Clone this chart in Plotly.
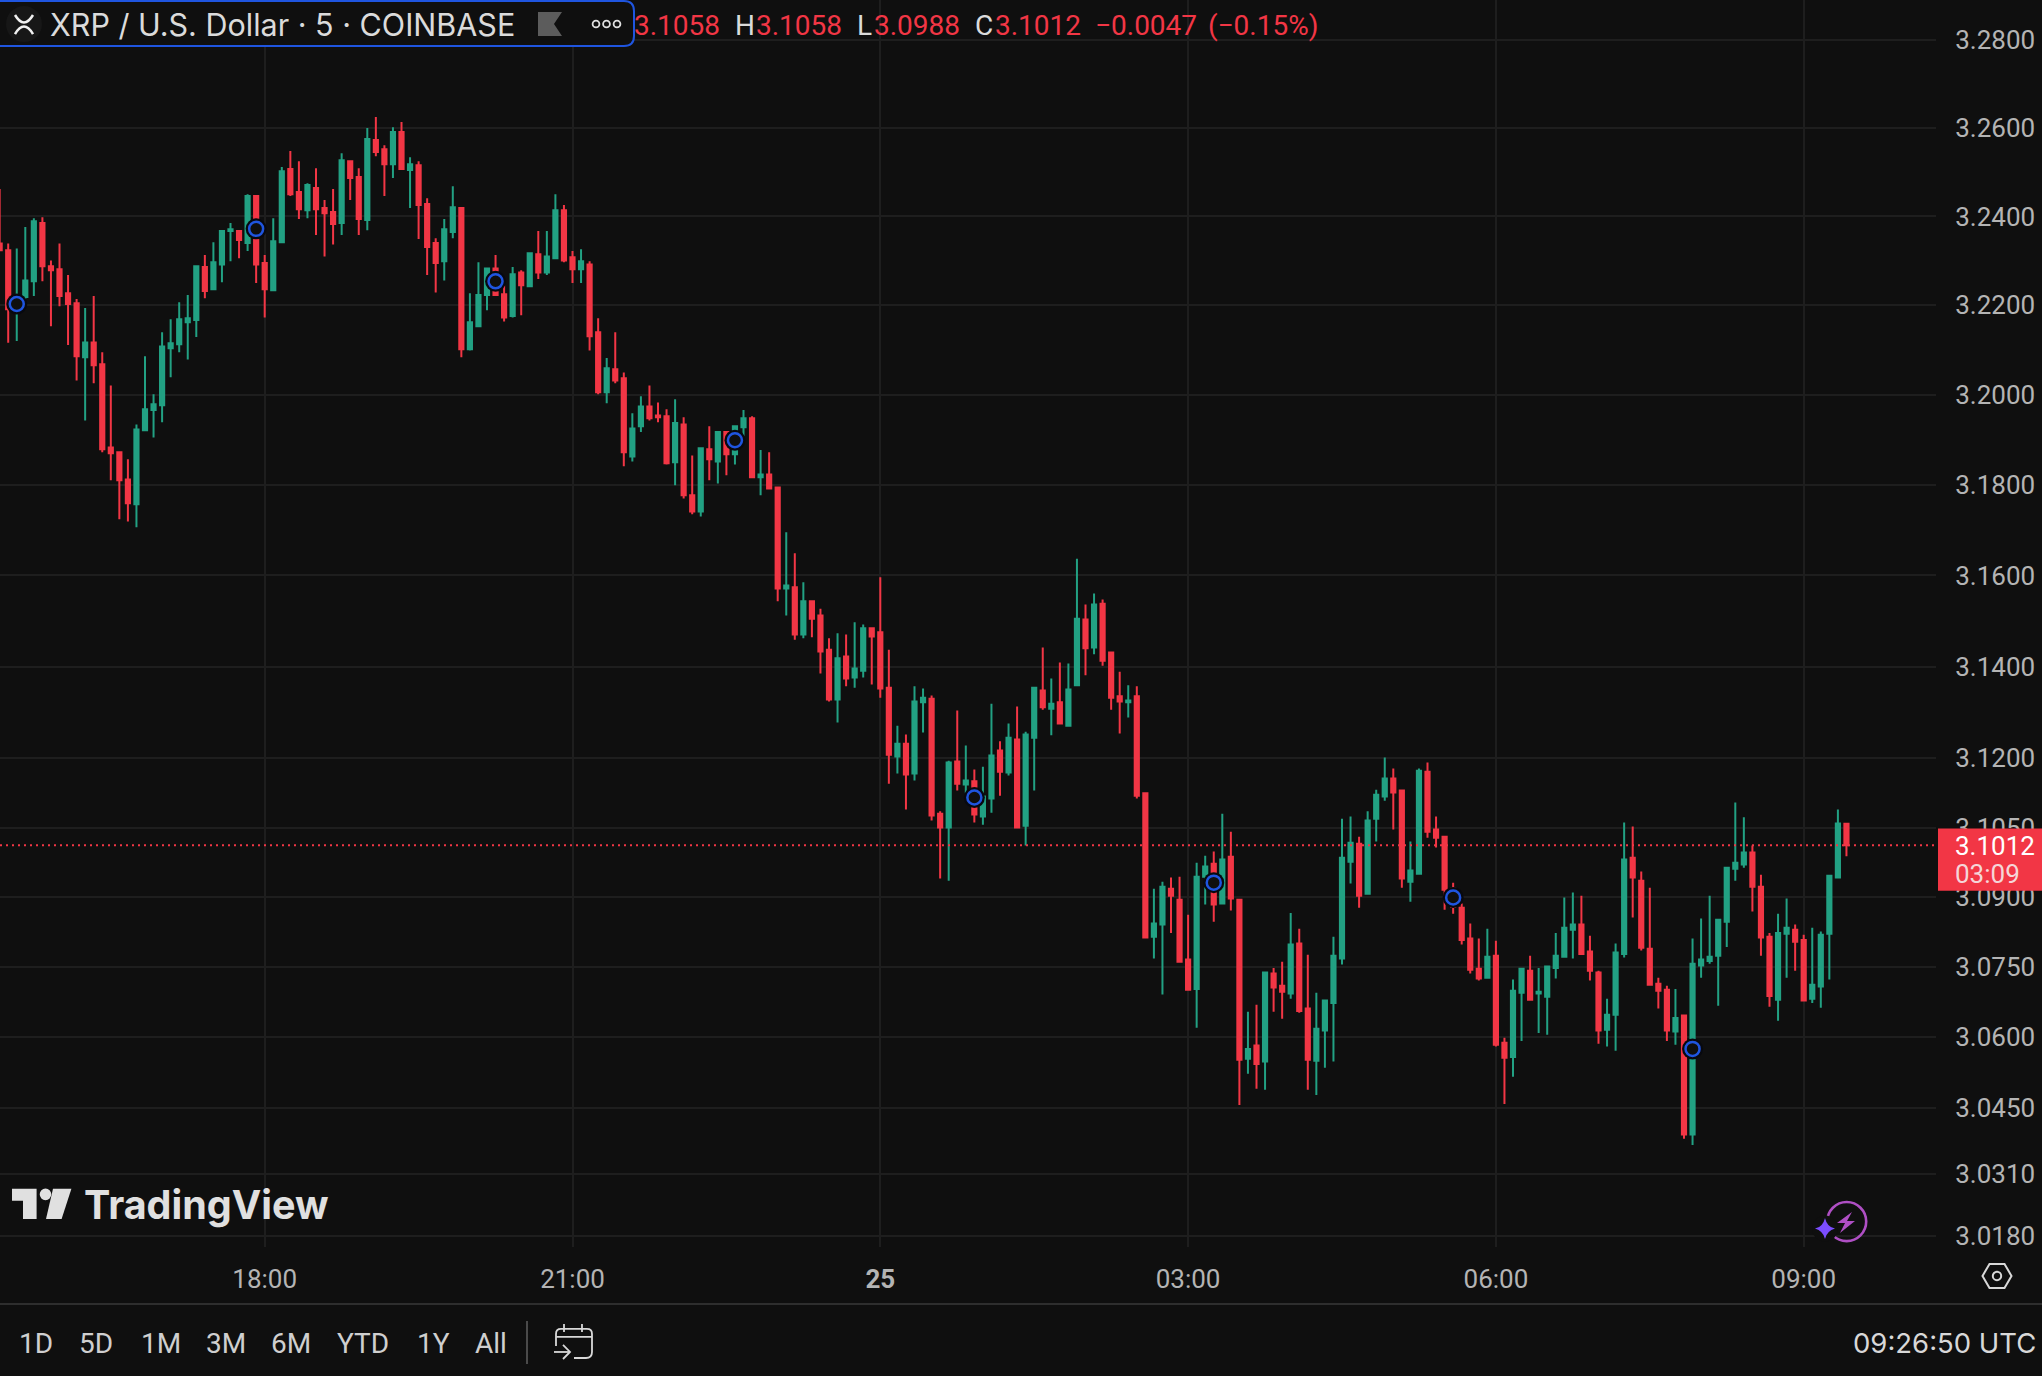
import math
import pandas as pd
import plotly.graph_objects as go

# ---- data ----
open_ = [3.2339,3.2324,3.2188,3.2219,3.2254,3.2385,3.2288,3.2281,3.2227,3.2205,3.2084,3.2117,3.2068,3.1883,3.1872,3.1812,3.1757,3.1921,3.1966,3.1977,3.2104,3.2113,3.2162,3.2167,3.2286,
3.2236,3.2292,3.2367,3.2367,3.2340,3.2446,3.2295,3.2234,3.2342,3.2507,3.2455,3.2414,3.2464,3.2419,3.2410,3.2385,3.2525,3.2489,3.2392,3.2573,3.2552,3.2518,3.2591,3.2505,3.2516,
3.2428,3.2340,3.2299,3.2365,3.2419,3.2102,3.2153,3.2223,3.2283,3.2225,3.2176,3.2274,3.2243,3.2315,3.2274,3.2306,3.2414,3.2308,3.2281,3.2292,3.2140,3.2006,3.2057,3.2037,3.1863,
3.1930,3.1974,3.1954,3.1952,3.1850,3.1934,3.1777,3.1741,3.1879,3.1852,3.1917,3.1868,3.1928,3.1948,3.1817,3.1823,3.1794,3.1571,3.1574,3.1470,3.1543,3.1512,3.1437,3.1328,3.1422,
3.1376,3.1391,3.1484,3.1475,3.1354,3.1204,3.1232,3.1167,3.1322,3.1330,3.1080,3.1050,3.1193,3.1143,3.1150,3.1074,3.1113,3.1217,3.1169,3.1241,3.1054,3.1245,3.1348,3.1308,3.1322,
3.1271,3.1359,3.1503,3.1442,3.1538,3.1431,3.1335,3.1322,3.1335,3.1124,3.0815,3.0841,3.0918,3.0894,3.0766,3.0703,3.0944,3.0972,3.0886,3.0987,3.0894,3.0554,3.0582,3.0548,3.0736,
3.0710,3.0693,3.0800,3.0661,3.0550,3.0614,3.0673,3.0768,3.0976,3.1015,3.0907,3.1069,3.1117,3.1156,3.1130,3.0933,3.0950,3.1171,3.1046,3.1030,3.0918,3.0877,3.0811,3.0746,3.0727,
3.0774,3.0588,3.0558,3.0695,3.0742,3.0693,3.0686,3.0748,3.0772,3.0830,3.0841,3.0783,3.0738,3.0616,3.0648,3.0778,3.0985,3.0935,3.0789,3.0714,3.0701,3.0612,3.0646,3.0393,3.0753,
3.0763,3.0774,3.0847,3.0961,3.0970,3.0996,3.0922,3.0815,3.0680,3.0821,3.0830,3.0808,3.0682,3.0708,3.0821,3.0942,3.1058]
high = [3.2462,3.2339,3.2328,3.2376,3.2396,3.2398,3.2301,3.2339,3.2268,3.2214,3.2194,3.2221,3.2095,3.2021,3.1872,3.1857,3.1934,3.2086,3.2001,3.2140,3.2169,3.2207,3.2223,3.2290,3.2313,
3.2342,3.2367,3.2385,3.2367,3.2450,3.2448,3.2313,3.2396,3.2512,3.2548,3.2525,3.2475,3.2509,3.2437,3.2462,3.2543,3.2525,3.2509,3.2600,3.2625,3.2561,3.2602,3.2614,3.2534,3.2525,
3.2441,3.2351,3.2394,3.2468,3.2419,3.2227,3.2297,3.2283,3.2313,3.2245,3.2286,3.2279,3.2319,3.2367,3.2367,3.2450,3.2426,3.2322,3.2326,3.2299,3.2171,3.2082,3.2140,3.2050,3.1959,
3.1997,3.2021,3.1983,3.1968,3.1990,3.1950,3.1865,3.1881,3.1930,3.1919,3.1917,3.1930,3.1966,3.1952,3.1877,3.1872,3.1794,3.1695,3.1649,3.1585,3.1545,3.1527,3.1462,3.1473,3.1470,
3.1497,3.1492,3.1484,3.1596,3.1437,3.1271,3.1252,3.1357,3.1352,3.1337,3.1085,3.1195,3.1304,3.1228,3.1176,3.1182,3.1319,3.1237,3.1276,3.1313,3.1258,3.1354,3.1442,3.1374,3.1409,
3.1407,3.1637,3.1536,3.1560,3.1547,3.1433,3.1389,3.1359,3.1357,3.1124,3.0918,3.0933,3.0942,3.0944,3.0862,3.0974,3.0989,3.0998,3.1080,3.1041,3.0894,3.0654,3.0669,3.0738,3.0748,
3.0761,3.0866,3.0832,3.0776,3.0695,3.0678,3.0815,3.1069,3.1074,3.1030,3.1085,3.1132,3.1202,3.1178,3.1130,3.1020,3.1178,3.1191,3.1074,3.1030,3.0931,3.0886,3.0843,3.0811,3.0832,
3.0806,3.0599,3.0723,3.0748,3.0774,3.0748,3.0751,3.0823,3.0899,3.0910,3.0903,3.0817,3.0742,3.0682,3.0800,3.1061,3.1052,3.0955,3.0920,3.0727,3.0710,3.0703,3.0648,3.0811,3.0854,
3.0903,3.0851,3.0963,3.1104,3.1072,3.1011,3.0948,3.0823,3.0864,3.0897,3.0841,3.0819,3.0834,3.0826,3.0946,3.1089,3.1058]
low = [3.2324,3.2116,3.2120,3.2215,3.2221,3.2254,3.2153,3.2198,3.2111,3.2032,3.1943,3.2026,3.1872,3.1810,3.1724,3.1719,3.1706,3.1921,3.1905,3.1939,3.2039,3.2095,3.2079,3.2129,3.2216,
3.2236,3.2252,3.2299,3.2306,3.2322,3.2250,3.2173,3.2232,3.2340,3.2446,3.2394,3.2396,3.2358,3.2310,3.2337,3.2358,3.2437,3.2358,3.2369,3.2536,3.2446,3.2487,3.2507,3.2419,3.2349,
3.2268,3.2229,3.2256,3.2351,3.2084,3.2099,3.2153,3.2189,3.2221,3.2164,3.2173,3.2178,3.2241,3.2259,3.2268,3.2304,3.2297,3.2250,3.2250,3.2099,3.2001,3.1981,3.2026,3.1841,3.1852,
3.1917,3.1943,3.1939,3.1845,3.1799,3.1770,3.1735,3.1730,3.1810,3.1803,3.1821,3.1845,3.1908,3.1817,3.1777,3.1792,3.1543,3.1512,3.1459,3.1462,3.1464,3.1385,3.1324,3.1278,3.1357,
3.1354,3.1376,3.1361,3.1332,3.1145,3.1167,3.1089,3.1152,3.1256,3.1065,3.0940,3.0935,3.1130,3.1124,3.1061,3.1056,3.1082,3.1119,3.1163,3.1050,3.1011,3.1130,3.1306,3.1250,3.1276,
3.1271,3.1357,3.1381,3.1427,3.1402,3.1306,3.1254,3.1289,3.1113,3.0811,3.0768,3.0691,3.0823,3.0761,3.0699,3.0620,3.0884,3.0847,3.0886,3.0871,3.0456,3.0522,3.0490,3.0488,3.0654,
3.0639,3.0682,3.0652,3.0488,3.0477,3.0535,3.0548,3.0755,3.0929,3.0877,3.0907,3.1020,3.1108,3.1046,3.0920,3.0890,3.0950,3.1028,3.1007,3.0873,3.0864,3.0798,3.0736,3.0721,3.0725,
3.0580,3.0458,3.0516,3.0592,3.0680,3.0609,3.0605,3.0725,3.0772,3.0768,3.0778,3.0721,3.0586,3.0580,3.0571,3.0770,3.0856,3.0785,3.0712,3.0661,3.0592,3.0584,3.0384,3.0371,3.0727,
3.0757,3.0667,3.0793,3.0935,3.0963,3.0869,3.0774,3.0665,3.0635,3.0727,3.0742,3.0676,3.0673,3.0663,3.0723,3.0942,3.0988]
close = [3.2324,3.2191,3.2215,3.2256,3.2389,3.2288,3.2279,3.2221,3.2203,3.2086,3.2117,3.2066,3.1879,3.1870,3.1810,3.1759,3.1923,3.1968,3.1979,3.2108,3.2115,3.2169,3.2171,3.2288,3.2232,
3.2297,3.2367,3.2371,3.2347,3.2446,3.2292,3.2236,3.2344,3.2502,3.2450,3.2416,3.2471,3.2416,3.2407,3.2383,3.2527,3.2487,3.2394,3.2575,3.2546,3.2518,3.2591,3.2507,3.2518,3.2426,
3.2331,3.2295,3.2371,3.2421,3.2102,3.2162,3.2223,3.2283,3.2223,3.2173,3.2270,3.2245,3.2317,3.2274,3.2310,3.2414,3.2301,3.2281,3.2299,3.2131,3.2006,3.2059,3.2032,3.1872,3.1925,
3.1974,3.1948,3.1950,3.1848,3.1937,3.1777,3.1741,3.1881,3.1857,3.1917,3.1868,3.1930,3.1948,3.1817,3.1823,3.1792,3.1571,3.1578,3.1470,3.1543,3.1505,3.1433,3.1328,3.1418,3.1374,
3.1396,3.1484,3.1466,3.1352,3.1208,3.1232,3.1165,3.1324,3.1332,3.1076,3.1050,3.1191,3.1145,3.1152,3.1078,3.1117,3.1206,3.1171,3.1245,3.1050,3.1252,3.1354,3.1311,3.1319,3.1276,
3.1350,3.1505,3.1440,3.1536,3.1413,3.1332,3.1324,3.1326,3.1119,3.0813,3.0843,3.0922,3.0903,3.0761,3.0701,3.0944,3.0966,3.0884,3.0981,3.0897,3.0552,3.0575,3.0543,3.0738,3.0706,
3.0697,3.0798,3.0656,3.0552,3.0618,3.0678,3.0774,3.0985,3.1017,3.0903,3.1065,3.1121,3.1156,3.1126,3.0940,3.0957,3.1173,3.1041,3.1028,3.0916,3.0879,3.0808,3.0744,3.0725,3.0772,
3.0584,3.0556,3.0699,3.0746,3.0680,3.0697,3.0751,3.0774,3.0834,3.0841,3.0778,3.0742,3.0614,3.0648,3.0781,3.0981,3.0942,3.0791,3.0712,3.0699,3.0614,3.0641,3.0393,3.0757,3.0766,
3.0772,3.0851,3.0963,3.0974,3.0996,3.0922,3.0813,3.0688,3.0823,3.0834,3.0804,3.0678,3.0712,3.0819,3.0946,3.1059,3.1012]
marker_times = ['2025-07-24 15:35', '2025-07-24 17:55', '2025-07-24 20:15', '2025-07-24 22:35',
                '2025-07-25 00:55', '2025-07-25 03:15', '2025-07-25 05:35', '2025-07-25 07:55']
marker_prices = [3.2203, 3.2372, 3.2254, 3.1899, 3.1115, 3.0931, 3.0899, 3.0575]
tick_prices = [3.28, 3.26, 3.24, 3.22, 3.20, 3.18, 3.16, 3.14, 3.12, 3.105, 3.09, 3.075, 3.06, 3.045, 3.031, 3.018]
tick_times = ['2025-07-24 18:00', '2025-07-24 21:00', '2025-07-25 00:00', '2025-07-25 03:00',
              '2025-07-25 06:00', '2025-07-25 09:00']
tick_time_text = ['18:00', '21:00', '<b>25</b>', '03:00', '06:00', '09:00']
times = pd.date_range('2025-07-24 15:25', periods=len(open_), freq='5min')
assert len(open_) == len(high) == len(low) == len(close)

W, H_ = 2042, 1376
FIG_H = 1381
BG = '#0F0F0F'; RED = '#F23645'; GRN = '#22A183'; GRID = '#1E1E1E'; AX = '#B4B4B4'; FONT = 'Inter'; NUM = 'Roboto'
def X(v): return v / W
def Y(v): return 1 - v / H_
def p(y): return 3.26 * math.exp(-(y - 128) / 14348)

t0 = pd.Timestamp('2025-07-24 18:00')
xl = t0 + pd.Timedelta(minutes=5 * (-264.7 / 8.55))
xr = t0 + pd.Timedelta(minutes=5 * ((1936 - 264.7) / 8.55))

fig = go.Figure()
fig.add_trace(go.Scatter(x=[xl, xr], y=[close[-1], close[-1]], mode='lines', hoverinfo='skip', showlegend=False,
                         line=dict(color=RED, width=2, dash='2px,4px')))
fig.add_trace(go.Candlestick(x=times, open=open_, high=high, low=low, close=close, showlegend=False,
                             increasing=dict(line=dict(color=GRN, width=2), fillcolor=GRN),
                             decreasing=dict(line=dict(color=RED, width=2), fillcolor=RED)))
fig.add_trace(go.Scatter(x=marker_times, y=marker_prices, mode='markers', hoverinfo='skip', showlegend=False,
                         marker=dict(size=21, color='#08090F')))
fig.add_trace(go.Scatter(x=marker_times, y=marker_prices, mode='markers', hoverinfo='skip', showlegend=False,
                         marker=dict(size=14, color=BG, line=dict(color='#1F55E0', width=2.5))))

shapes = []
def sh(path_, fill=None, line=None, lw=2):
    shapes.append(dict(type='path', path=path_, xref='paper', yref='paper', fillcolor=fill,
                       line=dict(color=line if line else 'rgba(0,0,0,0)', width=lw if line else 0), layer='above'))
def path(*cmds):
    out = []
    for c in cmds:
        out.append(c[0] + ' '.join(f'{X(c[i]):.5f},{Y(c[i+1]):.5f}' for i in range(1, len(c), 2)))
    return ' '.join(out)
def circ(cx, cy, rx, ry=None, fill=None, line=None, lw=2):
    ry = ry or rx
    shapes.append(dict(type='circle', xref='paper', yref='paper', x0=X(cx - rx), x1=X(cx + rx), y0=Y(cy + ry), y1=Y(cy - ry),
                       fillcolor=fill, line=dict(color=line if line else 'rgba(0,0,0,0)', width=lw if line else 0), layer='above'))
def rect(x0, y0, x1, y1, fill):
    shapes.append(dict(type='rect', xref='paper', yref='paper', x0=X(x0), x1=X(x1), y0=Y(y1), y1=Y(y0), fillcolor=fill,
                       line=dict(width=0), layer='above'))

# header box
sh(path(('M', -4, 1), ('L', 624, 1), ('Q', 634, 1, 634, 11), ('L', 634, 36), ('Q', 634, 46, 624, 46), ('L', -4, 46)) + ' Z',
   fill=BG, line='#1F55E0', lw=2)
circ(24, 24, 18, fill='#171717')
sh(path(('M', 15, 15), ('Q', 24, 30, 33, 15)), line='#F0F0F0', lw=2.5)
sh(path(('M', 15, 34), ('Q', 24, 19, 33, 34)), line='#F0F0F0', lw=2.5)
sh(path(('M', 538, 12), ('L', 562, 12), ('L', 554, 24), ('L', 562, 36), ('L', 538, 36)) + ' Z', fill='#5C5C5C')
for cx in (596, 606.5, 617):
    circ(cx, 24, 3.4, line='#E0E0E0', lw=1.8)
# price box
rect(1938, 828, 2042, 890, RED)
# bottom separators
rect(0, 1302, 2042, 1304, '#2E2E2E')
rect(526, 1320, 528, 1363, '#4A4A4A')
# calendar
sh(path(('M', 556, 1345), ('L', 556, 1333), ('Q', 556, 1328, 561, 1328), ('L', 587, 1328), ('Q', 592, 1328, 592, 1333),
        ('L', 592, 1351), ('Q', 592, 1357, 586, 1357), ('L', 574, 1357)), line='#D8D8D8', lw=1.8)
sh(path(('M', 556, 1336), ('L', 592, 1336)), line='#D8D8D8', lw=1.8)
sh(path(('M', 564, 1323), ('L', 564, 1331)), line='#D8D8D8', lw=1.8)
sh(path(('M', 582, 1323), ('L', 582, 1331)), line='#D8D8D8', lw=1.8)
sh(path(('M', 554, 1351), ('L', 570, 1351)), line='#D8D8D8', lw=1.8)
sh(path(('M', 563, 1344), ('L', 570, 1351), ('L', 563, 1358)), line='#D8D8D8', lw=1.8)
# logo
sh(path(('M', 12, 1188), ('L', 36.6, 1188), ('L', 36.6, 1218), ('L', 23, 1218), ('L', 23, 1200), ('L', 12, 1200)) + ' Z', fill='#E0E0E0')
circ(45.5, 1193.5, 5.8, fill='#E0E0E0')
sh(path(('M', 53, 1188), ('L', 71.4, 1188), ('L', 61.6, 1218), ('L', 46, 1218)) + ' Z', fill='#E0E0E0')
# purple icon
circ(1846.7, 1220.7, 19.5, line='#AF4FC4', lw=2.6)
circ(1825, 1227.7, 13, fill=BG)
sh(path(('M', 1825, 1217), ('Q', 1827, 1226, 1835, 1227.7), ('Q', 1827, 1230, 1825, 1238), ('Q', 1823, 1230, 1815, 1227.7),
        ('Q', 1823, 1226, 1825, 1217)) + ' Z', fill='#7B4DFF')
sh(path(('M', 1852, 1211), ('L', 1837, 1222), ('L', 1845, 1222), ('L', 1840, 1232), ('L', 1855, 1220), ('L', 1847, 1220)) + ' Z', fill='#AF4FC4')
# settings hexagon
sh(path(('M', 1982.5, 1275), ('L', 1989.5, 1263), ('L', 2004.5, 1263), ('L', 2011.5, 1275), ('L', 2004.5, 1287), ('L', 1989.5, 1287)) + ' Z',
   line='#D8D8D8', lw=2)
circ(1997, 1275, 4.2, line='#D8D8D8', lw=2)

annos = []
def txt(x, y, s, size, color, anchor='left', weight=None, family=FONT):
    annos.append(dict(text=s, x=X(x), y=Y(y), xref='paper', yref='paper', xanchor=anchor, yanchor='middle', showarrow=False,
                      font=dict(family=family, size=size, color=color, weight=weight), borderpad=0, borderwidth=0))
txt(50, 24, 'XRP / U.S. Dollar · 5 · COINBASE', 30.5, '#DBDBDB')
for x_, s_, c_ in [(634, '3.1058', RED), (735, 'H', '#DBDBDB'), (756, '3.1058', RED), (857, 'L', '#DBDBDB'), (874, '3.0988', RED),
                   (975, 'C', '#DBDBDB'), (995, '3.1012', RED), (1095, '−0.0047', RED), (1208, '(−0.15%)', RED)]:
    txt(x_, 25, s_, 28, c_, family=NUM)
txt(1955, 845, '3.1012', 26, '#FFFFFF', family=NUM)
txt(1955, 873, '03:09', 26, '#F5D5D8', family=NUM)
for x_, s_ in [(19, '1D'), (79, '5D'), (141, '1M'), (206, '3M'), (271, '6M'), (337, 'YTD'), (417, '1Y'), (475, 'All')]:
    txt(x_, 1343, s_, 28, '#CFCFCF', family=NUM)
txt(2036, 1342, '09:26:50 UTC', 27.5, '#D8D8D8', anchor='right')
txt(84, 1204, 'TradingView', 39.5, '#E0E0E0', weight=700)

fig.update_layout(width=W, height=FIG_H, margin=dict(l=0, r=0, t=0, b=0), paper_bgcolor=BG, plot_bgcolor=BG,
                  showlegend=False, hovermode=False, shapes=shapes, annotations=annos,
                  xaxis=dict(domain=[0, 1936 / W], range=[xl, xr], rangeslider=dict(visible=False), tickmode='array',
                             tickvals=tick_times, ticktext=tick_time_text, showgrid=True, gridcolor=GRID, gridwidth=2, zeroline=False,
                             showline=False, ticks='outside', ticklen=9, tickcolor='rgba(0,0,0,0)',
                             tickfont=dict(family=NUM, size=26, color=AX)),
                  yaxis=dict(domain=[1 - 1245.7 / H_, 1], type='log', side='right',
                             range=[math.log10(p(1245.7)), math.log10(p(0))], tickmode='array', tickvals=tick_prices,
                             ticktext=[f'{v:.4f}' for v in tick_prices], showgrid=True, gridcolor=GRID, gridwidth=2, zeroline=False,
                             showline=False, ticks='outside', ticklen=13, tickcolor='rgba(0,0,0,0)',
                             tickfont=dict(family=NUM, size=26, color=AX)))
fig.write_html('out.html', config=dict(displayModeBar=False),
               post_script="var g=document.getElementById('{plot_id}');g.style.overflow='hidden';"
                           "document.querySelectorAll('.svg-container').forEach(function(e){e.style.verticalAlign='top';e.style.display='block';});"
                           "var h=document.documentElement;h.style.margin='0';h.style.overflow='hidden';"
                           "var b=document.body;b.style.margin='0';b.style.overflow='hidden';b.style.background='#0F0F0F';")
